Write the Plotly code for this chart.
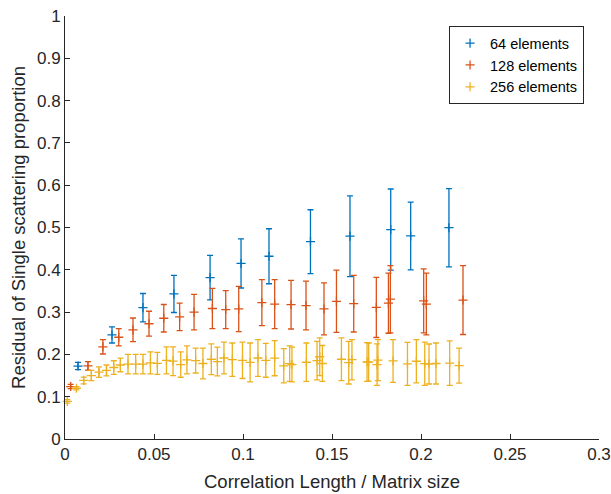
import plotly.graph_objects as go

# ---- data ----
x64 = [0.0073, 0.0264, 0.0438, 0.0612, 0.0815, 0.0989, 0.1146, 0.1379, 0.1601, 0.1830, 0.1942, 0.2157]
y64 = [0.1725, 0.246, 0.3105, 0.343, 0.3815, 0.415, 0.432, 0.4665, 0.4795, 0.495, 0.480, 0.4995]
e64 = [0.0085, 0.019, 0.0335, 0.044, 0.0525, 0.058, 0.065, 0.0755, 0.0955, 0.096, 0.080, 0.0925]

x128 = [0.0032, 0.0129, 0.0213, 0.0302, 0.0382, 0.0472, 0.0555, 0.0644, 0.0725, 0.0828,
        0.0903, 0.0976, 0.1106, 0.1178, 0.1270, 0.1354, 0.1455, 0.1525, 0.1622, 0.1749,
        0.1817, 0.1828, 0.2015, 0.2030, 0.2236]
y128 = [0.124, 0.173, 0.218, 0.2405, 0.258, 0.2725, 0.2855, 0.2885, 0.300, 0.3085,
        0.306, 0.3075, 0.3225, 0.319, 0.3175, 0.3155, 0.3075, 0.3255, 0.320, 0.311,
        0.321, 0.3305, 0.3265, 0.319, 0.3285]
e128 = [0.005, 0.010, 0.017, 0.0205, 0.028, 0.0295, 0.0325, 0.0325, 0.042, 0.0475,
        0.045, 0.0535, 0.0545, 0.058, 0.0575, 0.0575, 0.0615, 0.0735, 0.067, 0.071,
        0.071, 0.0795, 0.0755, 0.073, 0.0815]

x256 = [0.0013, 0.0064, 0.0105, 0.0148, 0.0191, 0.0233, 0.0274, 0.0311, 0.0354, 0.0397,
        0.0438, 0.0480, 0.0519, 0.0570, 0.0607, 0.0650, 0.0685, 0.0734, 0.0775, 0.0822,
        0.0856, 0.0893, 0.0940, 0.0997, 0.1040, 0.1084, 0.1128, 0.1178, 0.1229, 0.1262,
        0.1275, 0.1356, 0.1416, 0.1431, 0.1446, 0.1553, 0.1594, 0.1612, 0.1697, 0.1706,
        0.1753, 0.1758, 0.1843, 0.1924, 0.1974, 0.2021, 0.2045, 0.2084, 0.2161, 0.2214]
y256 = [0.089, 0.120, 0.1385, 0.150, 0.158, 0.162, 0.169, 0.175, 0.177, 0.177,
        0.177, 0.180, 0.179, 0.186, 0.184, 0.176, 0.187, 0.1855, 0.1785, 0.1885,
        0.183, 0.1915, 0.1875, 0.186, 0.181, 0.1915, 0.186, 0.191, 0.173, 0.178,
        0.176, 0.1815, 0.1855, 0.1945, 0.1785, 0.1885, 0.1805, 0.1875, 0.182, 0.182,
        0.176, 0.1865, 0.1845, 0.1777, 0.1838, 0.178, 0.1773, 0.1785, 0.1795, 0.1735]
e256 = [0.004, 0.004, 0.008, 0.012, 0.0125, 0.013, 0.016, 0.016, 0.023, 0.023,
        0.023, 0.026, 0.026, 0.032, 0.034, 0.030, 0.033, 0.0295, 0.0365, 0.0365,
        0.034, 0.0375, 0.0395, 0.043, 0.046, 0.0435, 0.040, 0.0415, 0.0405, 0.042,
        0.041, 0.0455, 0.0455, 0.0445, 0.0425, 0.0505, 0.0505, 0.0475, 0.046, 0.045,
        0.049, 0.0485, 0.0505, 0.0507, 0.0512, 0.051, 0.0473, 0.0485, 0.0525, 0.0415]

names = ["64 elements", "128 elements", "256 elements"]
colors = ["#0072BD", "#D95319", "#EDB120"]

xtickvals = [0, 0.05, 0.1, 0.15, 0.2, 0.25, 0.3]
xticktext = ["0", "0.05", "0.1", "0.15", "0.2", "0.25", "0.3"]
ytickvals = [0, 0.1, 0.2, 0.3, 0.4, 0.5, 0.6, 0.7, 0.8, 0.9, 1]
yticktext = ["0", "0.1", "0.2", "0.3", "0.4", "0.5", "0.6", "0.7", "0.8", "0.9", "1"]

FONT = "Liberation Sans, Arial, Helvetica, sans-serif"
AX = "#262626"

fig = go.Figure()
for xs, ys, es, nm, c in [(x64, y64, e64, names[0], colors[0]),
                          (x128, y128, e128, names[1], colors[1]),
                          (x256, y256, e256, names[2], colors[2])]:
    fig.add_trace(go.Scatter(
        x=xs, y=ys, mode="markers", name=nm, cliponaxis=False,
        marker=dict(symbol="cross-thin", size=6.5, color=c, line=dict(color=c, width=1.3)),
        error_y=dict(type="data", array=es, visible=True, color=c, thickness=1.3, width=3),
    ))

fig.update_layout(
    width=611, height=494,
    margin=dict(l=65, r=12, t=16, b=55, autoexpand=False),
    paper_bgcolor="white", plot_bgcolor="white",
    font=dict(family=FONT, color=AX, size=17),
    showlegend=True,
    legend=dict(x=0.972, xanchor="right", y=0.976, yanchor="top",
                bordercolor=AX, borderwidth=1, bgcolor="white",
                tracegroupgap=0, font=dict(size=14.5, color="#000000")),
)
fig.update_xaxes(
    range=[0, 0.3], tickvals=xtickvals, ticktext=xticktext, automargin=False,
    showline=True, linecolor=AX, linewidth=1, showgrid=False, zeroline=False,
    ticks="inside", ticklen=5, tickcolor=AX, tickfont=dict(size=17, color=AX),
    title=dict(text="Correlation Length / Matrix size", font=dict(size=18.5, color=AX), standoff=11),
)
fig.update_yaxes(
    range=[0, 1], tickvals=ytickvals, ticktext=yticktext, automargin=False,
    showline=True, linecolor=AX, linewidth=1, showgrid=False, zeroline=False,
    ticks="inside", ticklen=5, tickcolor=AX, tickfont=dict(size=17, color=AX),
    title=dict(text="Residual of Single scattering proportion", font=dict(size=18.5, color=AX), standoff=6),
)

# remove the browser's default 8px page margin so the figure sits at the top-left corner
fig.write_html("out.html", config={"displayModeBar": False},
               post_script="document.body.style.margin='0';")
